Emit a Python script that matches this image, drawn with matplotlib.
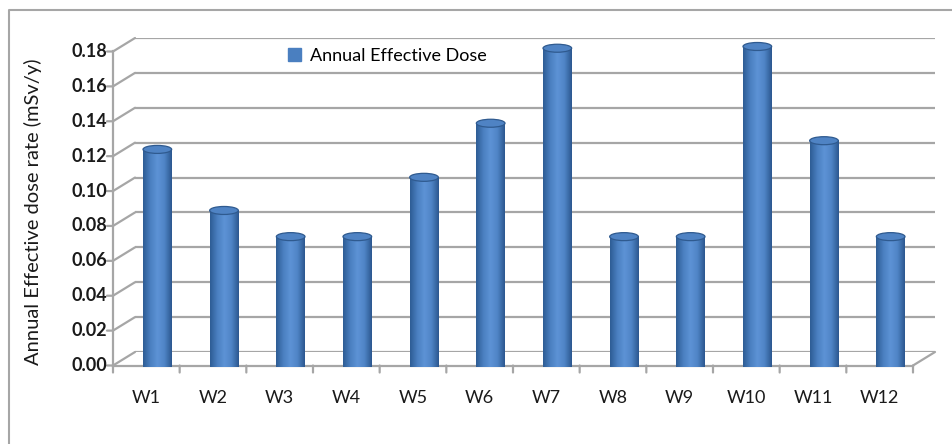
import numpy as np
import matplotlib
matplotlib.use('Agg')
import matplotlib.pyplot as plt
from matplotlib.patches import Ellipse, ConnectionPatch, Patch
from matplotlib.lines import Line2D
from matplotlib.transforms import ScaledTranslation

plt.rcParams['font.family'] = ['Lato', 'DejaVu Sans']

# data
sites = ['W1', 'W2', 'W3', 'W4', 'W5', 'W6', 'W7', 'W8', 'W9', 'W10', 'W11', 'W12']
dose = [0.120, 0.085, 0.070, 0.070, 0.104, 0.135, 0.178, 0.070, 0.070, 0.179, 0.125, 0.070]
yticks = [0.00, 0.02, 0.04, 0.06, 0.08, 0.10, 0.12, 0.14, 0.16, 0.18]

W, H = 952, 444
fig = plt.figure(figsize=(W / 100, H / 100), dpi=100)

# outer chart border (left and top only visible)
fig.add_artist(Line2D([9 / W, 9 / W, 1], [0, 1 - 10 / H, 1 - 10 / H],
                      transform=fig.transFigure, color='#a6a6a6', lw=1.5))

# back wall of the 3d box
ax = fig.add_axes([135 / W, 1 - 352 / H, 800 / W, 314 / H])
ax.set_xlim(0, 12)
ax.set_ylim(0, 0.18)
ax.axis('off')

grid_c = '#a6a6a6'
dx, dy = -22 / 100, -13.5 / 100
front = ax.transData + ScaledTranslation(dx, dy, fig.dpi_scale_trans)
mid = ax.transData + ScaledTranslation(dx / 2, dy / 2, fig.dpi_scale_trans)

# gridlines on back wall + slant on side wall
ax.hlines(yticks, 0, 12, color=grid_c, lw=1.6, zorder=1)
for t in yticks:
    ax.add_artist(ConnectionPatch(xyA=(0, t), coordsA=front, xyB=(0, t), coordsB=ax.transData,
                                  color=grid_c, lw=1.6, zorder=1))
# floor right edge
ax.add_artist(ConnectionPatch(xyA=(12, 0), coordsA=front, xyB=(12, 0), coordsB=ax.transData,
                              color=grid_c, lw=1.6, zorder=1))

# front axes
ax.plot([0, 0], [0, 0.18], color=grid_c, lw=1.6, transform=front, clip_on=False)
ax.plot([0, 12], [0, 0], color=grid_c, lw=1.6, transform=front, clip_on=False)
tick_in = ScaledTranslation(-0.06, 0, fig.dpi_scale_trans)
for t in yticks:
    ax.add_artist(ConnectionPatch(xyA=(0, t), coordsA=front, xyB=(0, t), coordsB=front + tick_in,
                                  color=grid_c, lw=1.6))
    ax.text(0, t, f'{t:.2f}', transform=front + ScaledTranslation(-0.06, 0, fig.dpi_scale_trans),
            ha='right', va='center', fontsize=13, fontweight='bold', color='#1a1a1a')
tick_dn = ScaledTranslation(0, -0.07, fig.dpi_scale_trans)
for i in range(13):
    ax.add_artist(ConnectionPatch(xyA=(i, 0), coordsA=front, xyB=(i, 0), coordsB=front + tick_dn,
                                  color=grid_c, lw=1.6))
for i, s in enumerate(sites):
    ax.text(i + 0.5, 0, s, transform=front + ScaledTranslation(0, -0.32, fig.dpi_scale_trans),
            ha='center', va='center', fontsize=13, color='#1a1a1a')

# cylinders
bw = 0.43
cap_h = 8 / (314 / 0.18)
cols = matplotlib.colors.LinearSegmentedColormap.from_list(
    'cyl', ['#2e5d95', '#4a7fc0', '#5d93d6', '#4f84c6', '#2c5890'])
img = cols(np.linspace(0, 1, 64))[None, :, :]
bars = ax.bar([i + 0.5 for i in range(len(sites))], dose, width=bw, color='none',
              transform=mid, zorder=3, lw=0)
for i, (b, v) in enumerate(zip(bars, dose)):
    x0 = i + 0.5 - bw / 2
    bottom = Ellipse((i + 0.5, 0), bw, cap_h, transform=mid, facecolor='none', lw=0, zorder=3)
    ax.add_patch(bottom)
    for clip in (b, bottom):
        im = ax.imshow(img, extent=(x0, x0 + bw, -cap_h, v), transform=mid, aspect='auto',
                       zorder=3.5, interpolation='bilinear')
        im.set_clip_path(clip)
        im.set_clip_box(fig.bbox)
    ax.add_patch(Ellipse((i + 0.5, v), bw, cap_h, transform=mid, facecolor='#4f83c4',
                         edgecolor='#2f5a8f', lw=0.9, zorder=4))
ax.set_xlim(0, 12)
ax.set_ylim(0, 0.18)

# y label and legend
fig.text(33 / W, 1 - 212 / H, 'Annual Effective dose rate (mSv/y)', rotation=90,
         ha='center', va='center', fontsize=14.5, color='#1a1a1a')
fig.legend(handles=[Patch(color='#4a7fc0')], labels=['Annual Effective Dose'],
           loc='center left', bbox_to_anchor=(272 / W, 1 - 56 / H), frameon=False,
           handlelength=0.7, handleheight=0.7, handletextpad=0.5, fontsize=13)

fig.savefig('out.png', dpi=100)
